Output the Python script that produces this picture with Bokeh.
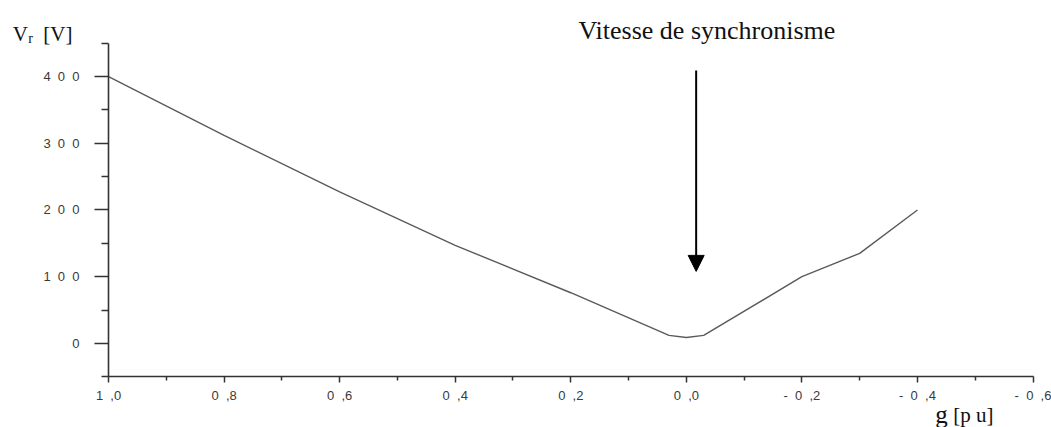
from bokeh.plotting import figure
from bokeh.models import (Range1d, FixedTicker, Label, Arrow, NormalHead)
from bokeh.embed import file_html
from bokeh.resources import INLINE

# Rotor voltage versus slip
slip = [1.0, 0.8, 0.6, 0.4, 0.2, 0.03, 0.0, -0.03, -0.2, -0.3, -0.4]
rotor_voltage = [400, 312, 227, 147, 76, 12, 9, 12, 100, 135, 200]

FS = "\u2007"  # figure space, widens the tick labels
x_ticks = [1.0, 0.8, 0.6, 0.4, 0.2, 0.0, -0.2, -0.4, -0.6]
x_minor = [0.9, 0.7, 0.5, 0.3, 0.1, -0.1, -0.3, -0.5]
x_labels = ["1" + FS + ",0", "0" + FS + ",8", "0" + FS + ",6", "0" + FS + ",4",
            "0" + FS + ",2", "0" + FS + ",0", "-" + FS + "0" + FS + ",2",
            "-" + FS + "0" + FS + ",4", "-" + FS + "0" + FS + ",6"]
y_ticks = [0, 100, 200, 300, 400]
y_minor = [-50, 50, 150, 250, 350, 450]
y_labels = ["0", "1" + FS + "0" + FS + "0", "2" + FS + "0" + FS + "0",
            "3" + FS + "0" + FS + "0", "4" + FS + "0" + FS + "0"]

# the drawing area spans the whole canvas; the axes sit at fixed data
# locations so the titles around them stay inside the frame
p = figure(width=1051, height=427, output_backend="svg", toolbar_location=None,
           x_range=Range1d(1.187, -0.632), y_range=Range1d(-126, 514),
           min_border=0)
p.outline_line_color = None
p.xgrid.visible = False
p.ygrid.visible = False
p.background_fill_color = "white"
p.border_fill_color = "white"

p.line(slip, rotor_voltage, line_color="#5a5a5a", line_width=1.4)

axis_color = "#333333"
tick_font = "Liberation Sans"

xa = p.xaxis[0]
xa.fixed_location = -50
xa.bounds = (-0.6, 1.0)
xa.ticker = FixedTicker(ticks=x_ticks, minor_ticks=x_minor)
xa.major_label_overrides = dict(zip(x_ticks, x_labels))
xa.axis_line_color = axis_color
xa.axis_line_width = 1.6
xa.major_tick_line_color = axis_color
xa.minor_tick_line_color = axis_color
xa.major_tick_line_width = 1.5
xa.minor_tick_line_width = 1.5
xa.major_tick_in = 0
xa.major_tick_out = 6
xa.minor_tick_in = 0
xa.minor_tick_out = 4
xa.major_label_standoff = 5
xa.major_label_text_font = tick_font
xa.major_label_text_font_size = "13px"
xa.major_label_text_color = "#3a3a3a"

ya = p.yaxis[0]
ya.fixed_location = 1.0
ya.bounds = (-50, 450)
ya.ticker = FixedTicker(ticks=y_ticks, minor_ticks=y_minor)
ya.major_label_overrides = dict(zip(y_ticks, y_labels))
ya.axis_line_color = axis_color
ya.axis_line_width = 1.6
ya.major_tick_line_color = axis_color
ya.minor_tick_line_color = axis_color
ya.major_tick_line_width = 1.5
ya.minor_tick_line_width = 1.5
ya.major_tick_in = 0
ya.major_tick_out = 14
ya.minor_tick_in = 0
ya.minor_tick_out = 7
ya.major_label_standoff = 15
ya.major_label_text_font = tick_font
ya.major_label_text_font_size = "13px"
ya.major_label_text_color = "#3a3a3a"

serif = "Liberation Serif"

# Y axis title: V_r [V]
p.add_layout(Label(x=1.166, y=464, text="V", text_font=serif,
                   text_font_size="21px", text_color="#111111",
                   text_baseline="alphabetic"))
p.add_layout(Label(x=1.139, y=457, text="r", text_font=serif,
                   text_font_size="14px", text_color="#111111",
                   text_baseline="alphabetic"))
p.add_layout(Label(x=1.113, y=464, text="[V]", text_font=serif,
                   text_font_size="21px", text_color="#111111",
                   text_baseline="alphabetic"))

# X axis title: g [p u]
p.add_layout(Label(x=-0.431, y=-107, text="g", text_font=serif,
                   text_font_size="25px", text_color="#111111",
                   text_baseline="alphabetic"))
p.add_layout(Label(x=-0.462, y=-107, text="[p u]", text_font=serif,
                   text_font_size="21px", text_color="#111111",
                   text_baseline="alphabetic"))

# Synchronous speed marker
p.add_layout(Label(x=-0.0355, y=469, text="Vitesse de synchronisme",
                   text_font=serif, text_font_size="26px",
                   text_color="#111111", text_align="center",
                   text_baseline="alphabetic"))
p.add_layout(Arrow(x_start=-0.017, y_start=409, x_end=-0.017, y_end=108,
                   line_color="black", line_width=2,
                   end=NormalHead(size=16, fill_color="black",
                                  line_color="black")))

open("out.html", "w").write(file_html(p, INLINE))
